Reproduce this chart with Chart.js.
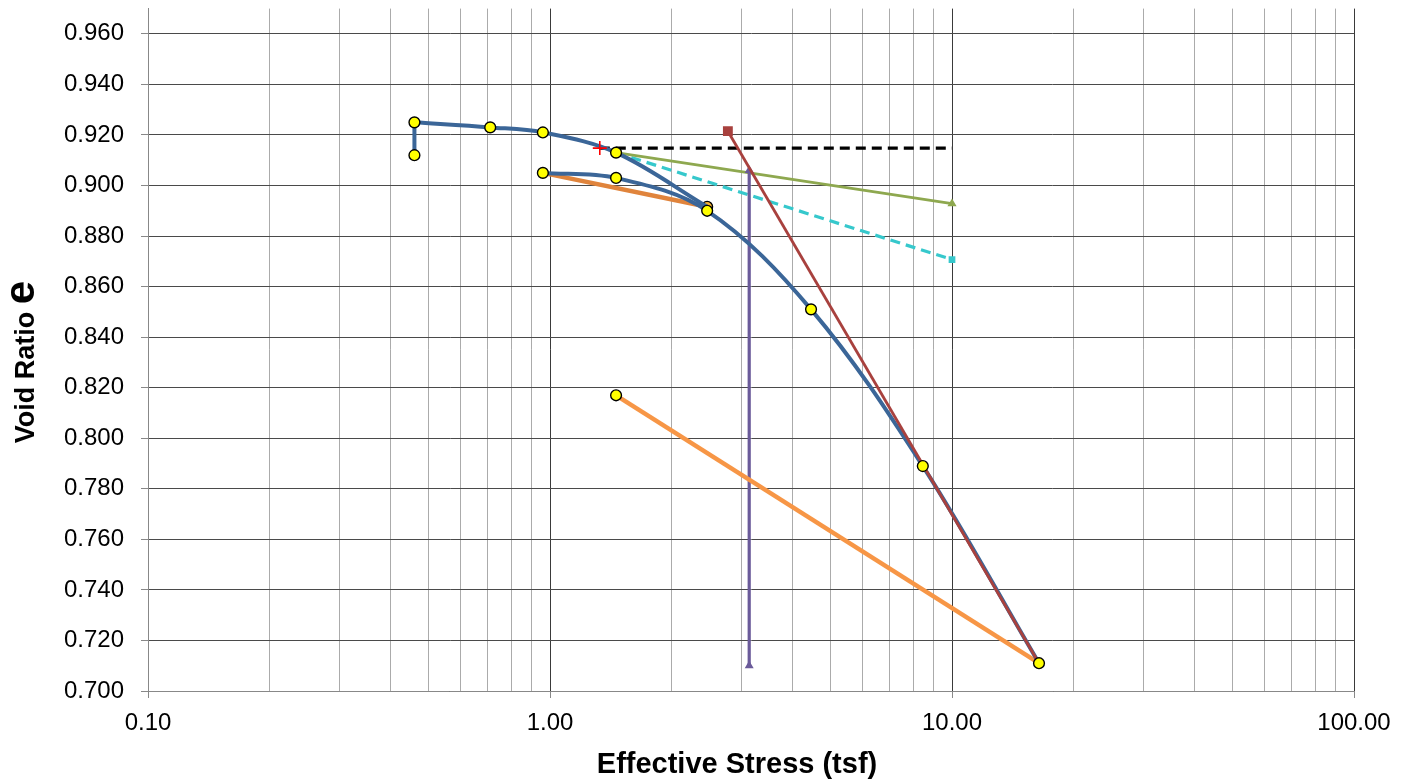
<!DOCTYPE html>
<html>
<head>
<meta charset="utf-8">
<script src="https://cdn.jsdelivr.net/npm/chart.js@4.4.1/dist/chart.umd.min.js"></script>
<style>
  html, body { margin: 0; padding: 0; background: #fff; }
  #wrap { width: 1413px; height: 780px; }
</style>
</head>
<body>
<div id="wrap"><canvas id="voidRatioChart"></canvas></div>
<script>
// Consolidation test: effective stress (tsf) vs void ratio
const seatStress = [0.46, 0.46];
const seatVoid = [0.912, 0.925];
const loadStress = [0.46, 0.71, 0.96, 1.46, 2.46];
const loadVoid = [0.925, 0.923, 0.921, 0.913, 0.8916];
const unloadStress = [2.46, 0.96];
const unloadVoid = [0.8916, 0.905];
const reloadStress = [0.96, 1.46, 2.46, 4.46, 8.46, 16.46];
const reloadVoid = [0.905, 0.903, 0.890, 0.851, 0.789, 0.711];
const reboundStress = [16.46, 1.46];
const reboundVoid = [0.711, 0.817];

// Casagrande construction lines
const maxCurveStress = [1.33];
const maxCurveVoid = [0.9148];
const horizStress = [1.33, 10];
const horizVoid = [0.9148, 0.9148];
const tangentStress = [1.46, 10];
const tangentVoid = [0.913, 0.8707];
const bisectStress = [1.46, 10];
const bisectVoid = [0.913, 0.8928];
const virginStress = [2.77, 16.46];
const virginVoid = [0.9215, 0.711];
const pcStress = [3.13, 3.13];
const pcVoid = [0.710, 0.906];

// axis ticks
const xDecades = [0.1, 1, 10, 100];
const xTickLabels = ['0.10', '1.00', '10.00', '100.00'];
const yTicks = [0.70, 0.72, 0.74, 0.76, 0.78, 0.80, 0.82, 0.84, 0.86, 0.88, 0.90, 0.92, 0.94, 0.96];

const FONT = '"Liberation Sans", Arial, Helvetica, sans-serif';

function pts(xs, ys) {
    return xs.map((x, i) => ({ x: x, y: ys[i] }));
}

// yellow test-point markers (unload start gets its own marker)
const markerPts = pts(seatStress, seatVoid)
    .concat(pts(loadStress.slice(1, 4), loadVoid.slice(1, 4)))
    .concat(pts(reloadStress, reloadVoid))
    .concat(pts(reboundStress.slice(1), reboundVoid.slice(1)));

const line = (data, color, width, extra) => Object.assign({
    data: data,
    showLine: true,
    borderColor: color,
    backgroundColor: color,
    borderWidth: width,
    pointRadius: 0,
    tension: 0
}, extra || {});

const axisTitles = {
    id: 'axisTitles',
    afterDraw(chart) {
        const { ctx, chartArea } = chart;
        ctx.save();
        ctx.fillStyle = '#000';
        ctx.textBaseline = 'alphabetic';

        ctx.font = 'bold 29px ' + FONT;
        ctx.textAlign = 'center';
        ctx.fillText('Effective Stress (tsf)', (chartArea.left + chartArea.right) / 2 - 14, 773);

        // y title: "Void Ratio" with a larger "e"
        const a = 'Void Ratio ', b = 'e';
        ctx.font = 'bold 27px ' + FONT;
        const wa = ctx.measureText(a).width;
        ctx.font = 'bold 42px ' + FONT;
        const wb = ctx.measureText(b).width;
        ctx.translate(34, 362);
        ctx.rotate(-Math.PI / 2);
        ctx.textAlign = 'left';
        const x0 = -(wa + wb) / 2;
        ctx.font = 'bold 27px ' + FONT;
        ctx.fillText(a, x0, 0);
        ctx.font = 'bold 42px ' + FONT;
        ctx.fillText(b, x0 + wa, 0);
        ctx.restore();
    }
};

const isDecade = v => Math.abs(Math.log10(v) - Math.round(Math.log10(v))) < 1e-6;

const ctx = document.getElementById('voidRatioChart').getContext('2d');
new Chart(ctx, {
    type: 'scatter',
    data: {
        datasets: [
            {
                data: markerPts,
                pointRadius: 5.4,
                pointBackgroundColor: '#ffff00',
                pointBorderColor: '#000',
                pointBorderWidth: 1.4
            },
            {
                data: pts(maxCurveStress, maxCurveVoid),
                pointStyle: 'cross',
                pointRadius: 7,
                pointBorderColor: '#ff0000',
                pointBorderWidth: 1.6
            },
            line(pts(virginStress, virginVoid), '#a8413e', 2.8, {
                pointRadius: [5, 0], pointStyle: 'rect', pointBackgroundColor: '#a8413e'
            }),
            line(pts(reloadStress, reloadVoid), '#3b6698', 4, { tension: 0.35 }),
            line(pts(loadStress, loadVoid), '#3b6698', 4, { tension: 0.35 }),
            line(pts(seatStress, seatVoid), '#3b6698', 4),
            line(pts(unloadStress, unloadVoid), '#e0843c', 4.5, {
                pointRadius: [5.4, 0], pointBackgroundColor: '#f2b134',
                pointBorderColor: '#000', pointBorderWidth: 1.4
            }),
            line(pts(reboundStress, reboundVoid), '#f79646', 4.5),
            line(pts(pcStress, pcVoid), '#6b5b9a', 3.2, {
                pointRadius: 2, pointStyle: 'triangle', pointBackgroundColor: '#6b5b9a'
            }),
            line(pts(bisectStress, bisectVoid), '#8ea84f', 2.8, {
                pointRadius: [0, 2.5], pointStyle: 'triangle', pointBackgroundColor: '#8ea84f'
            }),
            line(pts(tangentStress, tangentVoid), '#36c8cc', 3.2, {
                borderDash: [10, 6], pointRadius: [0, 2.5], pointStyle: 'rect',
                pointBackgroundColor: '#36c8cc'
            }),
            line(pts(horizStress, horizVoid), '#000000', 3.2, { borderDash: [10, 6] })
        ]
    },
    options: {
        responsive: true,
        maintainAspectRatio: false,
        animation: false,
        layout: { padding: { top: 2, right: 59, left: 0, bottom: 0 } },
        plugins: {
            legend: { display: false },
            tooltip: { enabled: false }
        },
        scales: {
            x: {
                type: 'logarithmic',
                min: 0.1,
                max: 100,
                afterBuildTicks: scale => {
                    const ticks = [];
                    xDecades.slice(0, 3).forEach(d => {
                        for (let m = 1; m < 10; m++) ticks.push({ value: d * m });
                    });
                    ticks.push({ value: 100 });
                    scale.ticks = ticks;
                },
                afterFit: scale => {
                    scale.height = 89;
                    scale.paddingLeft = 0;
                    scale.paddingRight = 0;
                },
                ticks: {
                    autoSkip: false,
                    maxRotation: 0,
                    padding: 11,
                    color: '#000',
                    font: { family: FONT, size: 24 },
                    callback: value => {
                        const i = xDecades.findIndex(d => Math.abs(d - value) < 1e-9);
                        return i >= 0 ? xTickLabels[i] : '';
                    }
                },
                grid: {
                    color: c => (c.tick && isDecade(c.tick.value)) ? '#3a3a3a' : '#ababab',
                    lineWidth: 1,
                    tickLength: 7,
                    tickColor: c => (c.tick && isDecade(c.tick.value)) ? '#888888' : 'rgba(0,0,0,0)'
                },
                border: { display: true, color: '#888888' }
            },
            y: {
                type: 'linear',
                min: 0.70,
                max: 0.97,
                afterBuildTicks: scale => {
                    scale.ticks = yTicks.map(v => ({ value: v }));
                },
                afterFit: scale => {
                    scale.width = 148;
                    scale.paddingTop = 0;
                    scale.paddingBottom = 0;
                },
                ticks: {
                    padding: 17,
                    color: '#000',
                    font: { family: FONT, size: 24 },
                    callback: value => value.toFixed(3)
                },
                grid: {
                    color: '#4a4a4a',
                    lineWidth: 1,
                    tickLength: 7,
                    tickColor: '#888888'
                },
                border: { display: true, color: '#888888' }
            }
        }
    },
    plugins: [axisTitles]
});
</script>
</body>
</html>
